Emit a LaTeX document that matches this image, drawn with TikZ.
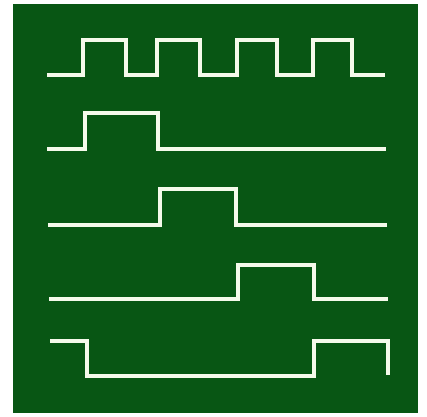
\documentclass[tikz,border=0pt]{standalone}
\definecolor{scope}{RGB}{8,86,20}
\definecolor{trace}{RGB}{245,250,235}
\tikzset{wave/.style={draw=trace,line width=3.2pt,line join=miter}}
\begin{document}
\begin{tikzpicture}[x=1pt,y=-1pt]
\useasboundingbox (0,0) rectangle (427,416);
\fill[white] (0,0) rectangle (427,416);
\fill[scope] (13,4) rectangle (418,413);
% clock
\draw[wave] (47,75) -- (83,75) -- (83,40) -- (126,40) -- (126,75) -- (157,75) -- (157,40) -- (200,40) -- (200,75) -- (237,75) -- (237,40) -- (277,40) -- (277,75) -- (313,75) -- (313,40) -- (352,40) -- (352,75) -- (385,75);
% phase 1
\draw[wave] (47,149) -- (85,149) -- (85,113) -- (158,113) -- (158,149) -- (386,149);
% phase 2
\draw[wave] (48,225) -- (160,225) -- (160,189) -- (236,189) -- (236,225) -- (387,225);
% phase 3
\draw[wave] (49,299) -- (238,299) -- (238,265) -- (314,265) -- (314,299) -- (388,299);
% phase 4
\draw[wave] (50,341) -- (87,341) -- (87,376) -- (314,376) -- (314,341) -- (388,341) -- (388,375);
\end{tikzpicture}
\end{document}
